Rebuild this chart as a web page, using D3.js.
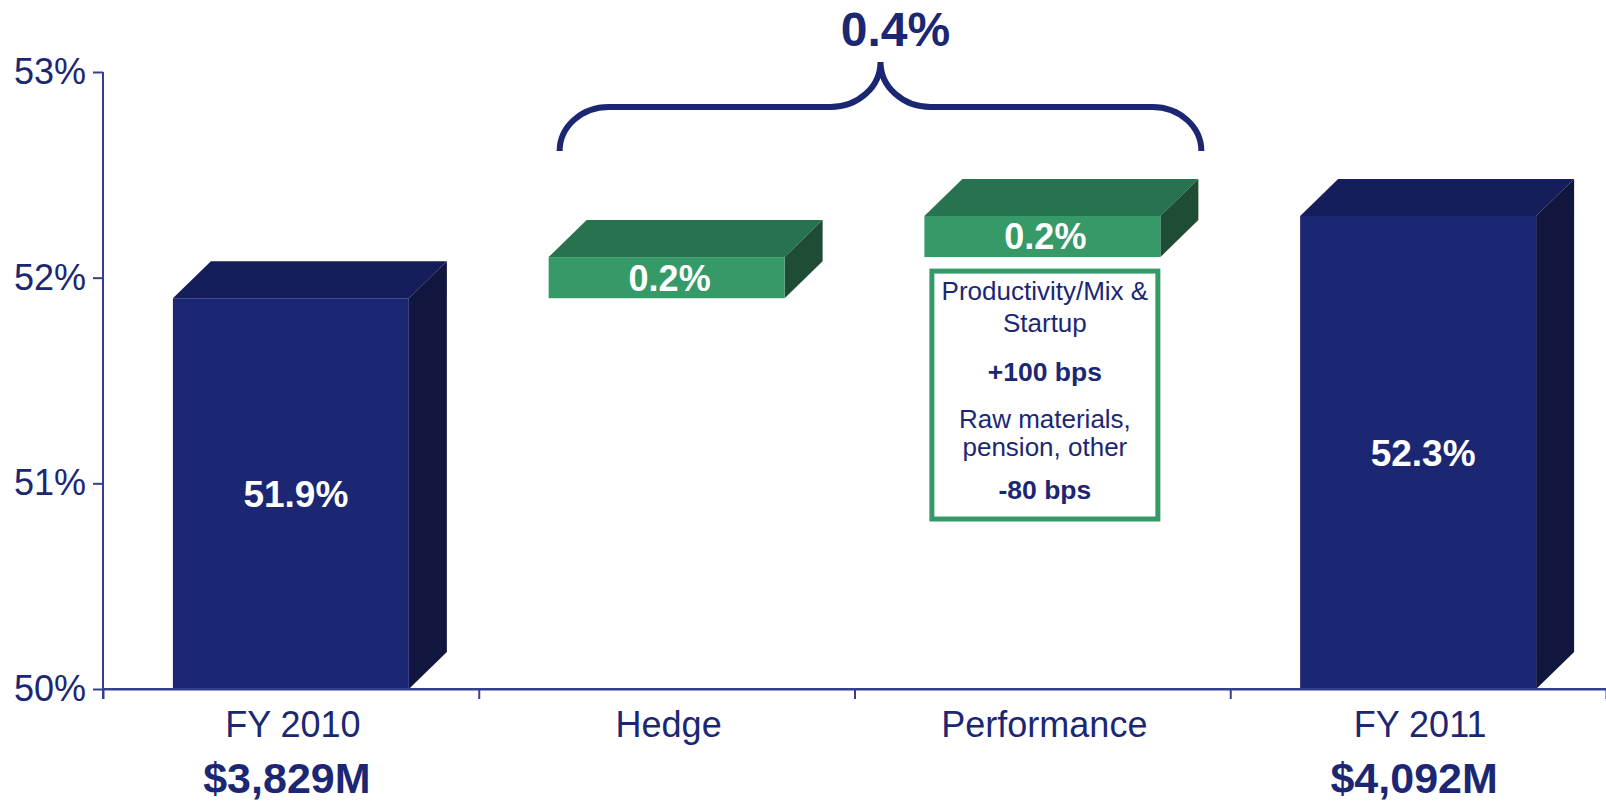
<!DOCTYPE html>
<html>
<head>
<meta charset="utf-8">
<script src="https://cdn.jsdelivr.net/npm/d3@7"></script>
<style>
  html, body { margin: 0; padding: 0; background: #fff; }
  svg { display: block; }
  text { font-family: "Liberation Sans", Arial, Helvetica, sans-serif; }
</style>
</head>
<body>
<svg id="chart" width="1606" height="802"></svg>
<script>
// ---- data ----
const categories = ["FY 2010", "Hedge", "Performance", "FY 2011"];
const values = [51.9, 0.2, 0.2, 52.3];
const kinds = ["total", "delta", "delta", "total"];
const valueLabels = ["51.9%", "0.2%", "0.2%", "52.3%"];
const amountLabels = ["$3,829M", "", "", "$4,092M"];
const yTicks = [50, 51, 52, 53];
const yTickLabels = ["50%", "51%", "52%", "53%"];
const braceLabel = "0.4%";
const noteLines = [
  { text: "Productivity/Mix &", bold: false },
  { text: "Startup", bold: false },
  { text: "+100 bps", bold: true },
  { text: "Raw materials,", bold: false },
  { text: "pension, other", bold: false },
  { text: "-80 bps", bold: true }
];

// ---- styles ----
const NAVY = "#1c2773";
const AXIS = "#34408f";
const colors = {
  total: { front: "#1c2774", top: "#151e5b", side: "#11163e" },
  delta: { front: "#359a68", top: "#27734f", side: "#1e4c34" }
};

const svg = d3.select("#chart");
const x = d3.scaleBand().domain(categories).range([103, 1606]).padding(0);
const y = d3.scaleLinear().domain([50, 53]).range([689, 72]);

const frontW = x.bandwidth() * 0.628;
const dx = 38, dy = 37;

// compute waterfall
let running = 0;
const bars = categories.map((c, i) => {
  let lo, hi;
  if (kinds[i] === "total") { lo = 50; hi = values[i]; running = values[i]; }
  else { lo = running; hi = running + values[i]; running = hi; }
  const cx = x(c) + x.bandwidth() / 2;
  return { c, i, lo, hi, x0: cx - frontW / 2, x1: cx + frontW / 2, cx,
           yTop: y(hi), yBot: y(lo), kind: kinds[i] };
});

// ---- axes ----
const yAxis = d3.axisLeft(y).tickValues(yTicks)
  .tickFormat((d, i) => yTickLabels[i]).tickSize(10).tickSizeOuter(0).tickPadding(7);
const gy = svg.append("g").attr("transform", "translate(103,0)").call(yAxis);
gy.selectAll("path.domain").attr("stroke", AXIS).attr("stroke-width", 2)
  .attr("d", `M0,${y(53)}V${y(50) + 10}`);
gy.selectAll(".tick line").attr("stroke", AXIS).attr("stroke-width", 2);
gy.selectAll(".tick text").attr("fill", NAVY).style("font-size", "36px")
  .style("font-family", '"Liberation Sans", Arial, sans-serif');

const xb = d3.scaleLinear().domain([0, categories.length]).range(x.range());
const xAxis = d3.axisBottom(xb).tickValues(d3.range(0, categories.length + 1))
  .tickFormat("").tickSize(10).tickSizeOuter(0);
const gx = svg.append("g").attr("transform", `translate(0,${y(50)})`).call(xAxis);
gx.selectAll("path.domain").attr("stroke", AXIS).attr("stroke-width", 2);
gx.selectAll(".tick line").attr("stroke", AXIS).attr("stroke-width", 2);

// ---- bars (3D) ----
const gb = svg.append("g");
bars.forEach(b => {
  const col = colors[b.kind];
  gb.append("polygon")
    .attr("points", [[b.x0, b.yTop], [b.x0 + dx, b.yTop - dy], [b.x1 + dx, b.yTop - dy], [b.x1, b.yTop]].join(" "))
    .attr("fill", col.top);
  gb.append("polygon")
    .attr("points", [[b.x1, b.yTop], [b.x1 + dx, b.yTop - dy], [b.x1 + dx, b.yBot - dy], [b.x1, b.yBot]].join(" "))
    .attr("fill", col.side);
  gb.append("rect")
    .attr("x", b.x0).attr("y", b.yTop).attr("width", frontW).attr("height", b.yBot - b.yTop)
    .attr("fill", col.front);
  const isTotal = b.kind === "total";
  gb.append("text")
    .attr("x", b.cx + (isTotal ? 5 : 3)).attr("y", (b.yTop + b.yBot) / 2)
    .attr("dy", "0.36em")
    .attr("text-anchor", "middle").attr("fill", "#fff")
    .style("font-size", isTotal ? "37px" : "36px").style("font-weight", "bold")
    .text(valueLabels[b.i]);
});

// redraw x-axis line over bar bottoms
svg.append("line").attr("x1", x.range()[0]).attr("x2", x.range()[1])
  .attr("y1", y(50)).attr("y2", y(50)).attr("stroke", AXIS).attr("stroke-width", 2);

// ---- category labels ----
const gl = svg.append("g");
categories.forEach((c, i) => {
  const cx = x(c) + x.bandwidth() / 2;
  gl.append("text").attr("x", cx + 2).attr("y", y(50) + 48)
    .attr("text-anchor", "middle").attr("fill", NAVY)
    .style("font-size", "36px").text(c);
  if (amountLabels[i]) {
    gl.append("text").attr("x", cx - 4).attr("y", y(50) + 104)
      .attr("text-anchor", "middle").attr("fill", NAVY)
      .style("font-size", "43px").style("font-weight", "bold").text(amountLabels[i]);
  }
});

// ---- brace annotation ----
const hedge = bars[1], perf = bars[2];
const bL = hedge.x0 + 11, bR = perf.x1 + dx + 3;
const bMid = (bL + bR) / 2;
const yBottom = y(53) + 79, yLine = y(53) + 35, yPeak = y(53) - 10;
const rx = 49, ry = yBottom - yLine;
const rx2 = 50, ry2 = yLine - yPeak;
const bracePath = [
  `M${bL},${yBottom}`,
  `A${rx},${ry} 0 0 1 ${bL + rx},${yLine}`,
  `L${bMid - rx2},${yLine}`,
  `A${rx2},${ry2} 0 0 0 ${bMid},${yPeak}`,
  `A${rx2},${ry2} 0 0 0 ${bMid + rx2},${yLine}`,
  `L${bR - rx},${yLine}`,
  `A${rx},${ry} 0 0 1 ${bR},${yBottom}`
].join(" ");
svg.append("path").attr("d", bracePath).attr("fill", "none")
  .attr("stroke", NAVY).attr("stroke-width", 6).attr("stroke-linecap", "butt");
svg.append("text").attr("x", bMid + 15).attr("y", 46)
  .attr("text-anchor", "middle").attr("fill", NAVY)
  .style("font-size", "48px").style("font-weight", "bold").text(braceLabel);

// ---- note box under Performance ----
const boxX0 = perf.x0 + 7.5, boxX1 = perf.x1 - 2.5;
const boxY0 = perf.yBot + 14, boxY1 = y(50) - 170;
svg.append("rect").attr("x", boxX0).attr("y", boxY0)
  .attr("width", boxX1 - boxX0).attr("height", boxY1 - boxY0)
  .attr("fill", "#fff").attr("stroke", "#359a68").attr("stroke-width", 5);
const noteBaselines = [300, 332, 381, 428, 456, 499];
const boxCx = (boxX0 + boxX1) / 2;
noteLines.forEach((l, i) => {
  svg.append("text").attr("x", boxCx).attr("y", noteBaselines[i])
    .attr("text-anchor", "middle").attr("fill", NAVY)
    .style("font-size", l.bold ? "26.5px" : "26px").style("font-weight", l.bold ? "bold" : "normal")
    .text(l.text);
});
</script>
</body>
</html>
